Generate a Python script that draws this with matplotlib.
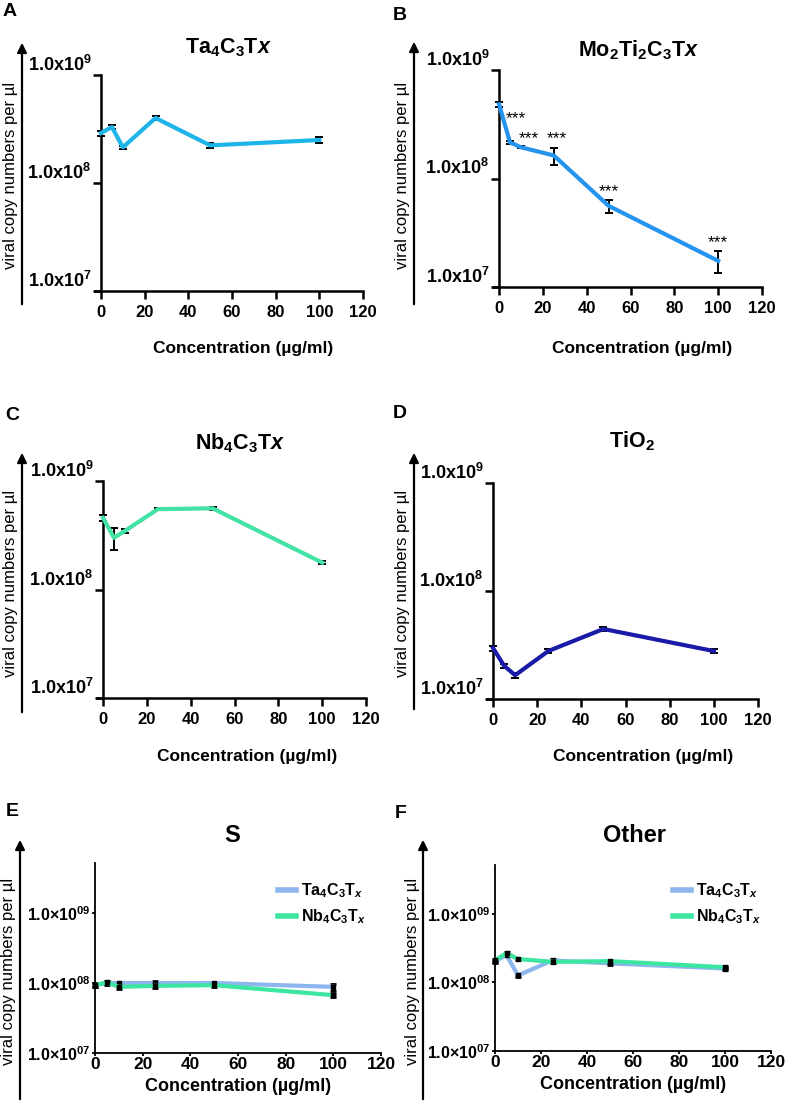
import numpy as np
import matplotlib
matplotlib.use("Agg")
import matplotlib.pyplot as plt
from matplotlib.patches import FancyArrowPatch
from matplotlib.lines import Line2D
from matplotlib.ticker import NullLocator

plt.rcParams["font.family"] = ["Liberation Sans", "DejaVu Sans"]
plt.rcParams["mathtext.fontset"] = "custom"
plt.rcParams["mathtext.rm"] = "Liberation Sans"
plt.rcParams["mathtext.bf"] = "Liberation Sans:bold"
plt.rcParams["mathtext.it"] = "Liberation Sans:italic:bold"

# ---- data ----
conc = [0, 5, 10, 25, 50, 100]

ta_vals = [2.9e8, 3.3e8, 2.14e8, 4.0e8, 2.23e8, 2.5e8]
ta_err = [0.15e8, 0.12e8, 0.06e8, 0.15e8, 0.12e8, 0.15e8]

mo_vals = [4.84e8, 2.15e8, 1.94e8, 1.63e8, 5.6e7, 1.74e7]
mo_err = [0.25e8, 0.06e8, 0.04e8, 0.3e8, 0.75e7, 0.4e7]
mo_sig = ["", "***", "***", "***", "***", "***"]

nb_vals = [4.57e8, 3.0e8, 3.47e8, 5.5e8, 5.6e8, 1.77e8]
nb_err = [0.25e8, 0.7e8, 0.15e8, 0.1e8, 0.2e8, 0.06e8]

tio2_vals = [2.96e7, 2.03e7, 1.66e7, 2.78e7, 4.45e7, 2.78e7]
tio2_err = [0.15e7, 0.08e7, 0.08e7, 0.1e7, 0.15e7, 0.1e7]

s_ta = [9.3e7, 1.0e8, 1.0e8, 1.0e8, 1.0e8, 8.8e7]
s_ta_err = [0.06e8, 0.06e8, 0.05e8, 0.07e8, 0.05e8, 0.1e8]
s_nb = [9.3e7, 1.02e8, 8.8e7, 9.1e7, 9.3e7, 6.7e7]
s_nb_err = [0.06e8, 0.06e8, 0.05e8, 0.07e8, 0.05e8, 0.03e8]

o_ta = [2.05e8, 2.5e8, 1.27e8, 2.1e8, 1.9e8, 1.6e8]
o_ta_err = [0.1e8, 0.08e8, 0.08e8, 0.12e8, 0.1e8, 0.1e8]
o_nb = [2.1e8, 2.7e8, 2.2e8, 2.0e8, 2.05e8, 1.67e8]
o_nb_err = [0.1e8, 0.1e8, 0.06e8, 0.08e8, 0.1e8, 0.1e8]

xticks = [0, 20, 40, 60, 80, 100, 120]

TA_LIGHT = "#8DB6EE"
NB_GREEN = "#3DE6A0"

W, H = 787, 1104
fig = plt.figure(figsize=(W / 100, H / 100), dpi=100)


def rect(l, r, t, b):
    return [l / W, 1 - b / H, (r - l) / W, (b - t) / H]


def fx(px):
    return px / W


def fy(py):
    return 1 - py / H


def side_arrow(x, y0, y1, label_x, label_y, fs):
    arr = FancyArrowPatch((fx(x), fy(y0)), (fx(x), fy(y1)), transform=fig.transFigure,
                          arrowstyle="-|>", mutation_scale=14, lw=1.6, color="black")
    fig.add_artist(arr)
    fig.text(fx(label_x), fy(label_y), "viral copy numbers per µl", rotation=90,
             ha="center", va="center", fontsize=fs)


def top_panel(pos, vals, err, color, title, title_xy, letter, letter_xy, xlab_xy, arrow):
    ax = fig.add_axes(rect(*pos))
    ax.errorbar(conc, vals, yerr=err, color=color, lw=3, ecolor="black",
                elinewidth=1.4, capsize=3, capthick=1.4, clip_on=False, zorder=3)
    ax.set_yscale("log")
    ax.set_ylim(1e7, 1e9)
    ax.set_xlim(-2.75, 120)
    ax.yaxis.set_minor_locator(NullLocator())
    ax.spines["left"].set_position(("data", 0))
    ax.spines[["top", "right"]].set_visible(False)
    for s in ["left", "bottom"]:
        ax.spines[s].set_linewidth(1.8)
    ax.tick_params(axis="both", length=6, width=1.8, pad=1)
    ax.tick_params(axis="x", pad=4)
    ax.set_yticks([1e7, 1e8, 1e9])
    ax.set_yticklabels([r"$\mathbf{1.0x10}^{\mathbf{7}}$", r"$\mathbf{1.0x10}^{\mathbf{8}}$",
                        r"$\mathbf{1.0x10}^{\mathbf{9}}$"], fontsize=13)
    for lab in ax.get_yticklabels():
        lab.set_va("bottom")
    ax.set_xticks(xticks)
    ax.set_xticklabels([str(v) for v in xticks], fontsize=12, fontweight="bold")
    ax.patch.set_alpha(0)
    fig.text(fx(title_xy[0]), fy(title_xy[1]), title, ha="center", va="center", fontsize=15.5)
    fig.text(fx(letter_xy[0]), fy(letter_xy[1]), letter, ha="center", va="center",
             fontsize=14, fontweight="bold")
    fig.text(fx(xlab_xy[0]), fy(xlab_xy[1]), "Concentration (µg/ml)", ha="center",
             va="center", fontsize=12.5, fontweight="bold")
    side_arrow(*arrow, fs=12)
    return ax


ta_title = r"$\mathbf{Ta_4C_3T}\mathit{x}$"
nb_title = r"$\mathbf{Nb_4C_3T}\mathit{x}$"

top_panel((95, 363, 75, 291), ta_vals, ta_err, "#1DB4EA", ta_title, (228, 48), "A", (10, 12),
          (243, 348), (22, 307, 40, 11, 175))
axB = top_panel((493, 762, 70, 287), mo_vals, mo_err, "#2494EE",
                r"$\mathbf{Mo_2Ti_2C_3T}\mathit{x}$", (639, 50), "B", (400, 16),
                (642, 348), (414, 307, 39, 403, 175))
top_panel((97, 366, 481, 698), nb_vals, nb_err, "#43E3A5", nb_title, (240, 443), "C", (12, 415),
          (247, 756), (22, 715, 450, 11, 583))
top_panel((487, 758, 483, 699), tio2_vals, tio2_err, "#1A1AA8", r"$\mathbf{TiO_2}$", (632, 441),
          "D", (400, 414), (643, 756), (414, 712, 450, 403, 583))

# significance stars in B
star_off = [(0, 0), (4, 13), (6, 2), (2, 3), (0, 3), (0, 3)]
for xv, yv, ev, s, off in zip(conc, mo_vals, mo_err, mo_sig, star_off):
    if s:
        axB.annotate(s, (xv, yv + ev), xytext=off, textcoords="offset points",
                     ha="center", va="baseline", fontsize=12.5)


def bottom_panel(pos, ymax, ta, ta_e, nb, nb_e, title, title_xy, letter, letter_xy, arrow, leg_xy):
    ax = fig.add_axes(rect(*pos))
    ax.errorbar(conc, ta, yerr=ta_e, color=TA_LIGHT, lw=3, ecolor="black", elinewidth=2,
                capsize=2, capthick=2, marker="s", ms=3, mfc="black", mec="black",
                clip_on=False, zorder=3)
    ax.errorbar(conc, nb, yerr=nb_e, color=NB_GREEN, lw=3, ecolor="black", elinewidth=2,
                capsize=2, capthick=2, marker="s", ms=3, mfc="black", mec="black",
                clip_on=False, zorder=4)
    ax.set_yscale("log")
    ax.set_ylim(1e7, ymax)
    ax.set_xlim(0, 120)
    ax.yaxis.set_minor_locator(NullLocator())
    ax.spines[["top", "right"]].set_visible(False)
    for s in ["left", "bottom"]:
        ax.spines[s].set_linewidth(1.3)
    ax.tick_params(axis="both", length=2, width=1.3, pad=1)
    ax.set_yticks([1e7, 1e8, 1e9])
    ax.set_yticklabels([r"$\mathbf{1.0{\times}10}^{\mathbf{07}}$",
                        r"$\mathbf{1.0{\times}10}^{\mathbf{08}}$",
                        r"$\mathbf{1.0{\times}10}^{\mathbf{09}}$"], fontsize=11.5)
    ax.set_xticks(xticks)
    ax.set_xticklabels([str(v) for v in xticks], fontsize=12.5, fontweight="bold")
    ax.patch.set_alpha(0)
    ax.set_xlabel("Concentration (µg/ml)", fontsize=13, fontweight="bold", labelpad=4)
    handles = [Line2D([], [], color=TA_LIGHT, lw=4), Line2D([], [], color=NB_GREEN, lw=4)]
    labels = [r"$\mathbf{Ta_4C_3T}_{\mathit{x}}$", r"$\mathbf{Nb_4C_3T}_{\mathit{x}}$"]
    ax.legend(handles, labels, loc="center left", frameon=False, fontsize=11.5,
              handlelength=1.1, handletextpad=0.35, labelspacing=0.45, borderaxespad=0,
              borderpad=0, bbox_to_anchor=(fx(leg_xy[0]), fy(leg_xy[1])),
              bbox_transform=fig.transFigure)
    fig.text(fx(title_xy[0]), fy(title_xy[1]), title, ha="center", va="center",
             fontsize=17, fontweight="bold")
    fig.text(fx(letter_xy[0]), fy(letter_xy[1]), letter, ha="center", va="center",
             fontsize=14, fontweight="bold")
    side_arrow(*arrow, fs=12)
    return ax


bottom_panel((95, 381, 863, 1053), 10 ** 9.714, s_ta, s_ta_err, s_nb, s_nb_err, "S", (232, 835),
             "E", (12, 812), (20, 1102, 837, 9, 971), (278, 904))
bottom_panel((495, 771, 865, 1051), 10 ** 9.715, o_ta, o_ta_err, o_nb, o_nb_err, "Other",
             (634, 836), "F", (401, 813), (423, 1102, 837, 412, 971), (673, 904))

fig.savefig("out.png", dpi=100)
